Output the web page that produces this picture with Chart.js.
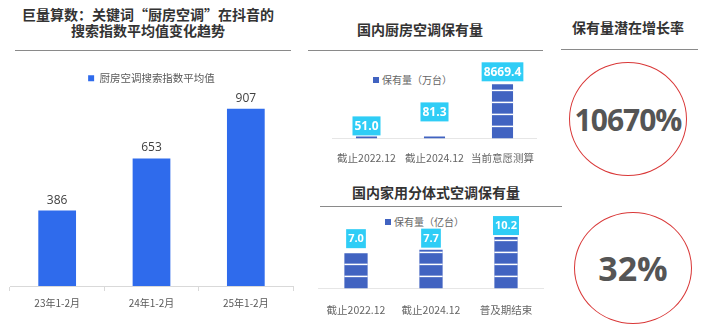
<!DOCTYPE html>
<html>
<head>
<meta charset="utf-8">
<script src="https://cdn.jsdelivr.net/npm/chart.js@4.4.1/dist/chart.umd.min.js"></script>
<style>
  body { margin: 0; width: 712px; height: 331px; background: #fff; position: relative; overflow: hidden; font-family: "Noto Sans CJK SC", sans-serif; }
  canvas { position: absolute; }
  .title { position: absolute; font-weight: bold; font-size: 14px; color: #333; text-align: center; line-height: 16px; white-space: nowrap; }
  .rule { position: absolute; height: 0; border-top: 1.5px solid #8a8a8a; }
  .legend { position: absolute; font-size: 10px; color: #666; white-space: nowrap; line-height: 12px; }
  .legend i { display: inline-block; width: 6px; height: 6px; background: #4163c1; margin-right: 3px; vertical-align: 1px; }
  .ring { position: absolute; border: 1.5px solid #d93838; border-radius: 50%; display: flex; align-items: center; justify-content: center; font-family: "Open Sans", sans-serif; font-weight: bold; color: #555; }
</style>
</head>
<body>
<div class="title" style="left:0; top:6px; width:296px;">巨量算数：关键词“厨房空调”在抖音的<br>搜索指数平均值变化趋势</div>
<div class="rule" style="left:15px; top:50px; width:276px;"></div>

<div class="title" style="left:320px; top:21px; width:200px;">国内厨房空调保有量</div>
<div class="rule" style="left:308px; top:50px; width:235px;"></div>
<div class="legend" style="left:373px; top:74px;"><i></i><span id="kitchenLegend"></span></div>

<div class="title" style="left:336px; top:184px; width:200px;">国内家用分体式空调保有量</div>
<div class="rule" style="left:320px; top:206px; width:242px;"></div>
<div class="legend" style="left:385px; top:216px;"><i></i><span id="splitLegend"></span></div>

<div class="title" style="left:560px; top:19px; width:136px;">保有量潜在增长率</div>
<div class="rule" style="left:561px; top:49px; width:137px;"></div>
<div class="ring" id="ring1" style="left:569px; top:62px; width:116px; height:112px; font-size:30px; letter-spacing:-1px;"></div>
<div class="ring" id="ring2" style="left:574px; top:212px; width:116px; height:110px; font-size:34px;"></div>

<canvas id="searchChart" width="300" height="260" style="left:0; top:55px;"></canvas>
<canvas id="kitchenChart" width="260" height="117" style="left:300px; top:60px;"></canvas>
<canvas id="splitChart" width="260" height="121" style="left:300px; top:210px;"></canvas>

<script>
// left: douyin search index
const searchLabels = ['23年1-2月', '24年1-2月', '25年1-2月'];
const searchValues = [386, 653, 907];
const searchName = '厨房空调搜索指数平均值';

// middle top: kitchen AC stock (10k units)
const kitchenLabels = ['截止2022.12', '截止2024.12', '当前意愿测算'];
const kitchenValues = [51.0, 81.3, 8669.4];
const kitchenName = '保有量（万台）';

// middle bottom: split AC stock (100m units)
const splitLabels = ['截止2022.12', '截止2024.12', '普及期结束'];
const splitValues = [7.0, 7.7, 10.2];
const splitName = '保有量（亿台）';

// right: potential growth
const growthRates = ['10670%', '32%'];

const cjk = '"Noto Sans CJK SC", sans-serif';
Chart.defaults.font.family = cjk;

document.getElementById('kitchenLegend').textContent = kitchenName;
document.getElementById('splitLegend').textContent = splitName;
document.getElementById('ring1').textContent = growthRates[0];
document.getElementById('ring2').textContent = growthRates[1];

// white cuts across the bars so they look stacked
const segments = {
  id: 'segments',
  afterDatasetsDraw(chart, args, opts) {
    if (!opts.pitch) return;
    const ctx = chart.ctx;
    ctx.save();
    ctx.strokeStyle = '#fff';
    ctx.lineWidth = opts.gap;
    chart.getDatasetMeta(0).data.forEach(bar => {
      const half = bar.width / 2;
      for (let y = bar.base - opts.pitch; y > bar.y + 0.5; y -= opts.pitch) {
        ctx.beginPath();
        ctx.moveTo(bar.x - half, y);
        ctx.lineTo(bar.x + half, y);
        ctx.stroke();
      }
    });
    ctx.restore();
  }
};

// value labels, plain text or white text in a cyan box
const valueLabels = {
  id: 'valueLabels',
  afterDatasetsDraw(chart, args, opts) {
    if (!opts.style) return;
    const ctx = chart.ctx;
    const values = chart.data.datasets[0].data;
    ctx.save();
    ctx.font = opts.font;
    ctx.textAlign = 'center';
    chart.getDatasetMeta(0).data.forEach((bar, i) => {
      const text = opts.decimals != null ? values[i].toFixed(opts.decimals) : String(values[i]);
      const lift = opts.lift ? opts.lift[i] : opts.gap;
      if (opts.style === 'plain') {
        ctx.fillStyle = opts.color;
        ctx.textBaseline = 'alphabetic';
        ctx.fillText(text, bar.x, bar.y - lift);
      } else {
        const w = ctx.measureText(text).width + opts.padX * 2;
        const top = bar.y - lift - opts.boxH;
        ctx.fillStyle = opts.boxColor;
        ctx.fillRect(bar.x - w / 2, top, w, opts.boxH);
        ctx.fillStyle = '#fff';
        ctx.textBaseline = 'middle';
        ctx.fillText(text, bar.x, top + opts.boxH / 2 + 0.5);
      }
    });
    ctx.restore();
  }
};

new Chart(document.getElementById('searchChart'), {
  type: 'bar',
  data: {
    labels: searchLabels,
    datasets: [{
      label: searchName,
      data: searchValues,
      backgroundColor: '#2f6bec',
      barPercentage: 0.4,
      categoryPercentage: 1
    }]
  },
  options: {
    responsive: false,
    animation: false,
    layout: { padding: { top: 8, left: 10, right: 7 } },
    scales: {
      x: {
        grid: { drawOnChartArea: false, tickLength: 5, color: '#d9d9d9' },
        border: { color: '#d9d9d9' },
        ticks: { color: '#595959', font: { size: 10 }, padding: 6 }
      },
      y: { display: false, min: 0, max: 985 }
    },
    plugins: {
      legend: { labels: { boxWidth: 6, boxHeight: 6, color: '#595959', font: { size: 10.5 }, padding: 10 } },
      tooltip: { enabled: false },
      valueLabels: { style: 'plain', font: '12px "Open Sans"', color: '#404040', gap: 7 }
    }
  },
  plugins: [segments, valueLabels]
});

new Chart(document.getElementById('kitchenChart'), {
  type: 'bar',
  data: {
    labels: kitchenLabels,
    datasets: [{
      label: kitchenName,
      data: kitchenValues,
      backgroundColor: '#4163c1',
      barPercentage: 0.31,
      categoryPercentage: 1,
      minBarLength: 2
    }]
  },
  options: {
    responsive: false,
    animation: false,
    layout: { padding: { top: 16, left: 32.5, right: 23.5 } },
    scales: {
      x: {
        grid: { display: false, drawTicks: false },
        border: { color: '#e6e6e6' },
        ticks: { color: '#666', font: { size: 10.5 }, padding: 13, maxRotation: 0, minRotation: 0, autoSkip: false }
      },
      y: { display: false, min: 0, max: 10000 }
    },
    plugins: {
      legend: { display: false },
      tooltip: { enabled: false },
      segments: { pitch: 12, gap: 1.5 },
      valueLabels: { style: 'box', font: 'bold 12px "Open Sans"', boxColor: '#2fcdf6', padX: 2, boxH: 19, decimals: 1, lift: [1, 15, 3] }
    }
  },
  plugins: [segments, valueLabels]
});

new Chart(document.getElementById('splitChart'), {
  type: 'bar',
  data: {
    labels: splitLabels,
    datasets: [{
      label: splitName,
      data: splitValues,
      backgroundColor: '#4163c1',
      barPercentage: 0.31,
      categoryPercentage: 1
    }]
  },
  options: {
    responsive: false,
    animation: false,
    layout: { padding: { top: 18, left: 18.5, right: 16.5 } },
    scales: {
      x: {
        grid: { display: false, drawTicks: false },
        border: { color: '#e6e6e6' },
        ticks: { color: '#666', font: { size: 10.5 }, padding: 15, maxRotation: 0, minRotation: 0, autoSkip: false }
      },
      y: { display: false, min: 0, max: 12 }
    },
    plugins: {
      legend: { display: false },
      tooltip: { enabled: false },
      segments: { pitch: 12, gap: 1.5 },
      valueLabels: { style: 'box', font: 'bold 11px "Open Sans"', boxColor: '#2fcdf6', padX: 2, boxH: 19, decimals: 1, lift: [5, 2, 2] }
    }
  },
  plugins: [segments, valueLabels]
});
</script>
</body>
</html>
